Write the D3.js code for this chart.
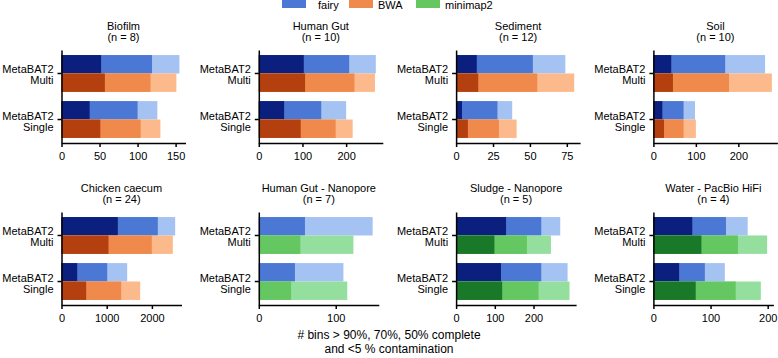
<!DOCTYPE html>
<html>
<head>
<meta charset="utf-8">
<script src="https://cdn.jsdelivr.net/npm/d3@7"></script>
<style>
    body { margin: 0; background: #fff; }
    svg { font-family: "Liberation Sans", Arial, sans-serif; }
    .axis path, .axis line { stroke: #000; stroke-width: 1.5px; }
    .axis text { font-size: 11px; fill: #000; }
</style>
</head>
<body>
<div id="chart"></div>
<script>

// panels, left to right then top to bottom
let panelNames = ["Biofilm", "Human Gut", "Sediment", "Soil",
    "Chicken caecum", "Human Gut - Nanopore", "Sludge - Nanopore", "Water - PacBio HiFi"];
let sampleCounts = [8, 10, 12, 10, 24, 7, 5, 4];
let groups = ["MetaBAT2 Multi", "MetaBAT2 Single"];
let secondTool = ["BWA", "BWA", "BWA", "BWA", "BWA", "minimap2", "minimap2", "minimap2"];

// bins > 90%, 70%, 50% complete
let fairyMulti = [[52, 119, 155], [103, 207, 268], [14, 52, 74], [42, 169, 263],
    [1246, 2131, 2515], [0, 60, 148], [129, 220, 269], [68, 127, 165]];
let fairySingle = [[37, 100, 126], [58, 143, 200], [4, 28, 38], [21, 71, 98],
    [347, 1011, 1453], [0, 47, 110], [116, 220, 288], [45, 90, 125]];
let otherMulti = [[57, 117, 151], [106, 219, 266], [15, 55, 80], [46, 178, 279],
    [1040, 1998, 2463], [0, 54, 123], [99, 183, 245], [84, 148, 199]];
let otherSingle = [[51, 104, 130], [96, 176, 215], [8, 29, 41], [25, 71, 100],
    [546, 1320, 1741], [0, 42, 115], [119, 213, 293], [74, 144, 188]];

let axisMax = [163, 284, 84, 292, 2655, 156, 310, 210];
let tickValues = [[0, 50, 100, 150], [0, 100, 200], [0, 25, 50, 75], [0, 100, 200],
    [0, 1000, 2000], [0, 100], [0, 100, 200], [0, 100, 200]];

let legendNames = ["fairy", "BWA", "minimap2"];

// dark (90%), mid (70%), light (50%)
let colors = {
    fairy: ["#0b1f7e", "#4a78d4", "#a4c3f2"],
    BWA: ["#b4400f", "#ef8a4c", "#fcb98b"],
    minimap2: ["#1a7829", "#64c761", "#94df9d"]
};

let width = 778, height = 358;

let svg = d3.select("#chart").append("svg")
    .attr("width", width)
    .attr("height", height);

// legend
let legendX = [{box: 282, text: 318}, {box: 349, text: 378}, {box: 416, text: 445}];
let legend = svg.selectAll(".legend")
    .data(legendNames)
    .enter().append("g")
    .attr("class", "legend");

legend.append("rect")
    .attr("x", (d, i) => legendX[i].box)
    .attr("y", -2)
    .attr("width", 24)
    .attr("height", 10)
    .style("fill", d => colors[d][1]);

legend.append("text")
    .attr("x", (d, i) => legendX[i].text)
    .attr("y", 8.5)
    .style("font-size", "11px")
    .text(d => d);

// panel geometry
let plotH = 93;

panelNames.forEach((name, p) => {
    let row = Math.floor(p / 4), col = p % 4;
    let x0 = 61.5 + col * 197.3;
    let y0 = row === 0 ? 50 : 212;
    let plotW = row === 0 ? 124 : 120;

    let g = svg.append("g")
        .attr("transform", `translate(${x0}, ${y0})`);

    let x = d3.scaleLinear()
        .domain([0, axisMax[p]])
        .range([0, plotW]);

    let y = d3.scaleBand()
        .domain(groups)
        .range([0, plotH])
        .paddingInner(0.2)
        .paddingOuter(0.11);

    // title
    let title = g.append("text")
        .attr("text-anchor", "middle")
        .style("font-size", "11px");
    title.append("tspan")
        .attr("x", plotW / 2)
        .attr("y", -20.5)
        .text(name);
    title.append("tspan")
        .attr("x", plotW / 2)
        .attr("y", -9.5)
        .text(`(n = ${sampleCounts[p]})`);

    let rows = [
        {group: groups[0], tool: "fairy", vals: fairyMulti[p], half: 0},
        {group: groups[0], tool: secondTool[p], vals: otherMulti[p], half: 1},
        {group: groups[1], tool: "fairy", vals: fairySingle[p], half: 0},
        {group: groups[1], tool: secondTool[p], vals: otherSingle[p], half: 1}
    ];

    let barH = y.bandwidth() / 2;

    rows.forEach(r => {
        // widest (50%) first, then 70%, then 90% on top
        let layers = [2, 1, 0].map(k => ({k: k, v: r.vals[k]}));
        g.selectAll(null)
            .data(layers)
            .enter().append("rect")
            .attr("x", x(0))
            .attr("y", y(r.group) + r.half * barH)
            .attr("width", d => x(d.v) - x(0))
            .attr("height", barH)
            .style("fill", d => colors[r.tool][d.k]);
    });

    // axes
    let xAxis = d3.axisBottom(x)
        .tickValues(tickValues[p])
        .tickFormat(d3.format("d"))
        .tickSize(4)
        .tickPadding(5)
        .tickSizeOuter(0);

    g.append("g")
        .attr("class", "x-axis axis")
        .attr("transform", `translate(0, ${plotH})`)
        .call(xAxis);

    let yAxis = d3.axisLeft(y)
        .tickSize(4)
        .tickSizeOuter(0)
        .tickFormat("");

    let yAxisGroup = g.append("g")
        .attr("class", "y-axis axis")
        .call(yAxis);

    yAxisGroup.selectAll(".tick").each(function(d) {
        let parts = d.split(" ");
        let t = d3.select(this).append("text")
            .attr("text-anchor", "end")
            .attr("x", -8);
        t.append("tspan").attr("x", -8).attr("y", 0).text(parts[0]);
        t.append("tspan").attr("x", -8).attr("y", 11).text(parts[1]);
    });

    g.selectAll(".axis .domain").attr("fill", "none");
});

// shared x label
let xLabel = svg.append("text")
    .attr("text-anchor", "middle")
    .style("font-size", "12px");
xLabel.append("tspan").attr("x", 389).attr("y", 339).text("# bins > 90%, 70%, 50% complete");
xLabel.append("tspan").attr("x", 389).attr("y", 353).text("and <5 % contamination");

</script>
</body>
</html>
